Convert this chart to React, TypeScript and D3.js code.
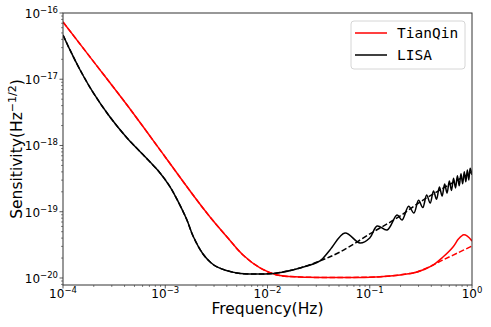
import React from 'react';
import * as d3 from 'd3';

// values (Hz, Hz^-1/2)
const tianqinFreq = [1e-4, 2e-4, 4.23e-4, 1e-3, 1.87e-3, 2.74e-3, 4.02e-3, 5.76e-3, 8.45e-3, 1.24e-2, 2.08e-2, 4.08e-2, 0.1, 0.158, 0.248, 0.29, 0.416, 0.52, 0.652, 0.74, 0.83, 0.9, 1];
const tianqinSens = [7.31e-17, 1.83e-17, 4.08e-18, 6.7e-19, 1.79e-19, 8.34e-20, 4.16e-20, 2.22e-20, 1.42e-20, 1.11e-20, 1.035e-20, 1.02e-20, 1.03e-20, 1.07e-20, 1.17e-20, 1.23e-20, 1.57e-20, 2.07e-20, 2.94e-20, 3.9e-20, 4.5e-20, 4.3e-20, 3.6e-20];

// TianQin without the transfer-function bump (dashed), high-frequency part
const tianqinFitFreq = [0.52, 0.72, 1];
const tianqinFitSens = [1.87e-20, 2.38e-20, 3.04e-20];

const lisaFreq = [
  1e-4, 1.17e-4, 1.47e-4, 1.96e-4, 2.88e-4, 4.23e-4, 6.05e-4, 8.89e-4, 1.11e-3, 1.3e-3, 1.63e-3, 1.87e-3, 2.34e-3,
  2.8e-3, 3.21e-3, 5.03e-3, 8.45e-3, 1.24e-2, 2.08e-2, 3.26e-2, 4.08e-2, 5.73e-2, 8.03e-2, 0.1, 0.118, 0.148, 0.185, 0.207,
  0.24, 0.27, 0.3, 0.33, 0.36, 0.39, 0.42, 0.45, 0.48, 0.51, 0.54, 0.57, 0.6, 0.63, 0.66, 0.69, 0.72, 0.75,
  0.78, 0.81, 0.84, 0.87, 0.9, 0.93, 0.96, 1,
];
const lisaSens = [
  4.66e-17, 2.77e-17, 1.38e-17, 6.4e-18, 2.69e-18, 1.3e-18, 7.3e-19, 3.85e-19, 2.4e-19, 1.55e-19, 7.5e-20, 4.3e-20, 2.3e-20,
  1.7e-20, 1.47e-20, 1.19e-20, 1.15e-20, 1.19e-20, 1.42e-20, 1.81e-20, 2.65e-20, 4.78e-20, 3.37e-20, 4.02e-20, 6.1e-20, 5.31e-20, 8.93e-20, 7.5e-20,
  1.21e-19, 9.57e-20, 1.49e-19, 1.156e-19, 1.79e-19, 1.35e-19, 2.06e-19, 1.54e-19, 2.36e-19, 1.73e-19, 2.63e-19, 1.91e-19,
  2.9e-19, 2.1e-19, 3.2e-19, 2.29e-19, 3.48e-19, 2.47e-19, 3.74e-19, 2.65e-19, 4.01e-19, 2.83e-19, 4.28e-19, 3.01e-19,
  4.54e-19, 3.6e-19,
];

// LISA smooth approximation (dashed), high-frequency part
const lisaFitFreq = [3.26e-2, 5.12e-2, 0.1076, 0.185, 0.332, 1];
const lisaFitSens = [1.81e-20, 2.47e-20, 4.94e-20, 8.05e-20, 1.5e-19, 3.98e-19];

const xTickExp = [-4, -3, -2, -1, 0];
const yTickExp = [-20, -19, -18, -17, -16];

const W = 491;
const H = 327;
const margin = { top: 13, right: 19, bottom: 42, left: 63 };

type Pt = [number, number];
const zip = (f: number[], s: number[]): Pt[] => f.map((v, i) => [v, s[i]]);

export default function App() {
  const x = d3.scaleLog().domain([1e-4, 1]).range([margin.left, W - margin.right]);
  const y = d3.scaleLog().domain([7.84e-21, 1e-16]).range([H - margin.bottom, margin.top]);

  const line = d3.line<Pt>()
    .x(d => x(d[0]))
    .y(d => y(d[1]))
    .curve(d3.curveCatmullRom.alpha(0.5));

  const tq = zip(tianqinFreq, tianqinSens);
  const tqFit = tq.filter(d => d[0] <= 0.416).concat(zip(tianqinFitFreq, tianqinFitSens));
  const lisa = zip(lisaFreq, lisaSens);
  const lisaFit = lisa.filter(d => d[0] <= 2.08e-2).concat(zip(lisaFitFreq, lisaFitSens));

  const x0 = margin.left, x1 = W - margin.right;
  const y0 = H - margin.bottom, y1 = margin.top;

  // minor ticks
  const xMinor: number[] = [];
  for (let e = -4; e < 0; e++) for (let m = 2; m <= 9; m++) xMinor.push(m * Math.pow(10, e));
  const yMinor: number[] = [];
  for (let e = -21; e < -16; e++) for (let m = 2; m <= 9; m++) {
    const v = m * Math.pow(10, e);
    if (v >= 7.84e-21 && v <= 1e-16) yMinor.push(v);
  }

  const font = 'DejaVu Sans, sans-serif';
  const axisColor = '#333';

  return (
    <svg width={W} height={H} style={{ position: 'absolute', left: 0, top: 0, background: '#fff' }}>
      <clipPath id="plot">
        <rect x={x0} y={y1} width={x1 - x0} height={y0 - y1} />
      </clipPath>

      <g clipPath="url(#plot)" fill="none" strokeWidth={1.5}>
        <path d={line(tq) || ''} stroke="#ff0000" />
        <path d={line(lisa) || ''} stroke="#000" />
        <path d={line(tqFit) || ''} stroke="#ff0000" strokeDasharray="5.5,2.4" />
        <path d={line(lisaFit) || ''} stroke="#000" strokeDasharray="5.5,2.4" />
      </g>

      {/* frame */}
      <rect x={x0} y={y1} width={x1 - x0} height={y0 - y1} fill="none" stroke={axisColor} strokeWidth={1} />

      {/* x ticks */}
      {xMinor.map(v => (
        <line key={'xm' + v} x1={x(v)} x2={x(v)} y1={y0} y2={y0 + 2} stroke={axisColor} strokeWidth={0.6} />
      ))}
      {xTickExp.map(e => (
        <g key={'x' + e}>
          <line x1={x(Math.pow(10, e))} x2={x(Math.pow(10, e))} y1={y0} y2={y0 + 3.5} stroke={axisColor} strokeWidth={0.8} />
          <text x={x(Math.pow(10, e))} y={y0 + 13} textAnchor="middle" fontFamily={font} fontSize={12} fill="#000">
            10<tspan dy={-5} fontSize={8.5}>{e < 0 ? '\u2212' + Math.abs(e) : String(e)}</tspan>
          </text>
        </g>
      ))}

      {/* y ticks */}
      {yMinor.map(v => (
        <line key={'ym' + v} x1={x0 - 2} x2={x0} y1={y(v)} y2={y(v)} stroke={axisColor} strokeWidth={0.6} />
      ))}
      {yTickExp.map(e => (
        <g key={'y' + e}>
          <line x1={x0 - 3.5} x2={x0} y1={y(Math.pow(10, e))} y2={y(Math.pow(10, e))} stroke={axisColor} strokeWidth={0.8} />
          <text x={x0 - 5} y={y(Math.pow(10, e)) + 5} textAnchor="end" fontFamily={font} fontSize={12} fill="#000">
            10<tspan dy={-5} fontSize={8.5}>{'\u2212' + Math.abs(e)}</tspan>
          </text>
        </g>
      ))}

      {/* axis labels */}
      <text x={(x0 + x1) / 2} y={314} textAnchor="middle" fontFamily={font} fontSize={15.5} fill="#000">
        Frequency(Hz)
      </text>
      <text transform={`translate(22,${(y0 + y1) / 2}) rotate(-90)`} textAnchor="middle" fontFamily={font} fontSize={15.5} fill="#000">
        Sensitivity(Hz<tspan dy={-6} fontSize={11}>{'\u22121/2'}</tspan><tspan dy={6}>)</tspan>
      </text>

      {/* legend */}
      <g>
        <rect x={351} y={21} width={114} height={48} rx={3} fill="#fff" fillOpacity={0.8} stroke="#ccc" strokeWidth={0.8} />
        <line x1={355} x2={387} y1={33} y2={33} stroke="#ff0000" strokeWidth={1.5} />
        <text x={397} y={38} fontFamily="DejaVu Sans Mono, monospace" fontSize={14.5} fill="#000">TianQin</text>
        <line x1={355} x2={387} y1={55} y2={55} stroke="#000" strokeWidth={1.5} />
        <text x={397} y={60} fontFamily="DejaVu Sans Mono, monospace" fontSize={14.5} fill="#000">LISA</text>
      </g>
    </svg>
  );
}
